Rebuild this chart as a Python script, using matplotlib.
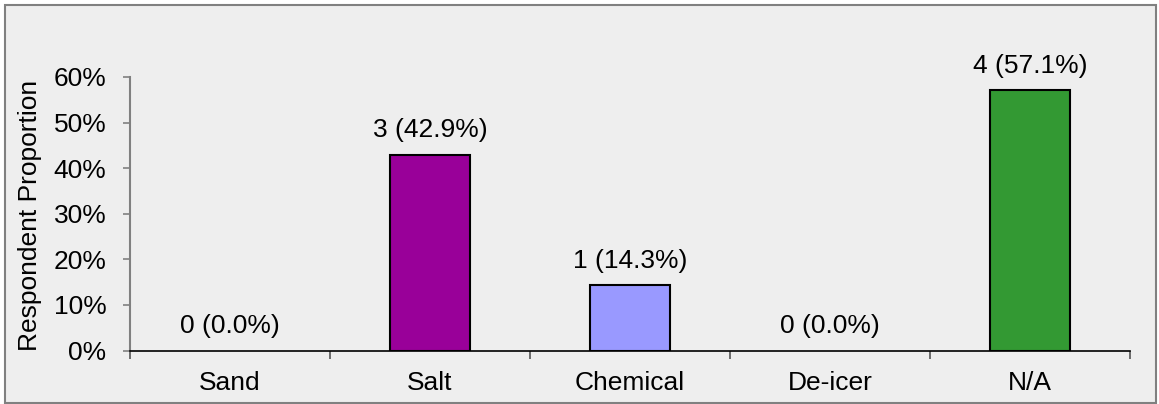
import matplotlib
matplotlib.use("Agg")
import matplotlib.pyplot as plt
from matplotlib.patches import Rectangle
from matplotlib.ticker import PercentFormatter, FixedLocator

categories = ["Sand", "Salt", "Chemical", "De-icer", "N/A"]
counts = [0, 3, 1, 0, 4]
proportions = [0.0, 42.9, 14.3, 0.0, 57.1]
colors = ["#999999", "#990099", "#9999FF", "#FFFFCC", "#339933"]
yticks = [0, 10, 20, 30, 40, 50, 60]

plt.rcParams['font.family'] = ['Liberation Sans', 'DejaVu Sans']
W, H = 1159, 404
fig = plt.figure(figsize=(W / 100, H / 100), dpi=100, facecolor="white")

# outer frame
fig.patches.append(Rectangle((4.5 / W, 1 - 403 / H), (1156 - 4.5) / W, (403 - 4.5) / H,
                             transform=fig.transFigure, facecolor="#EEEEEE",
                             edgecolor="#808080", linewidth=1.5, zorder=-5))

left, right = 130 / W, 1130 / W
bottom, top = 1 - 350.5 / H, 1 - 77 / H
ax = fig.add_axes([left, bottom, right - left, top - bottom])
ax.set_zorder(2)
ax.set_facecolor("none")

x = list(range(len(categories)))
bars = ax.bar(x, proportions, width=0.4, color=colors, edgecolor="black",
              linewidth=[1.5 if p > 0 else 0 for p in proportions], zorder=3)

for xi, c, p in zip(x, counts, proportions):
    ax.annotate(f"{c} ({p:.1f}%)", xy=(xi, p), xytext=(0, 9),
                textcoords="offset points", ha="center", va="bottom",
                fontsize=19, color="black", annotation_clip=False)

ax.set_xlim(-0.5, len(categories) - 0.5)
ax.set_ylim(0, 60)
ax.set_yticks(yticks)
ax.yaxis.set_major_formatter(PercentFormatter(decimals=0))
ax.tick_params(axis="y", direction="out", length=5, width=1.2, color="#808080",
               pad=12, labelsize=19)

ax.set_xticks(x)
ax.set_xticklabels(categories)
ax.tick_params(axis="x", which="major", length=0, pad=15, labelsize=19)
ax.xaxis.set_minor_locator(FixedLocator([i + 0.5 for i in range(-1, len(categories))]))
ax.tick_params(axis="x", which="minor", direction="out", length=6, width=1.2,
               color="#555555")

for s in ["top", "right"]:
    ax.spines[s].set_visible(False)
ax.spines["left"].set_color("#808080")
ax.spines["left"].set_linewidth(1.5)
ax.spines["bottom"].set_color("black")
ax.spines["bottom"].set_linewidth(1.2)

ax.set_ylabel("Respondent Proportion", fontsize=19)
ax.yaxis.set_label_coords((42 - 130) / (1130 - 130), (350.5 - 215) / (350.5 - 77))

fig.savefig("out.png", dpi=100, facecolor="white")
